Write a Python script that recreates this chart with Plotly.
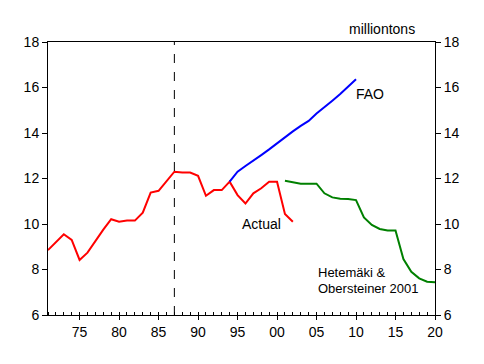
import plotly.graph_objects as go

# Data
actual_years = list(range(1971, 2003))
actual_vals = [8.85, 9.2, 9.55, 9.3, 8.42, 8.74, 9.25, 9.75, 10.21, 10.1,
               10.15, 10.15, 10.5, 11.38, 11.46, 11.86, 12.3, 12.26, 12.26, 12.12,
               11.24, 11.49, 11.49, 11.86, 11.27, 10.9, 11.35, 11.57, 11.86, 11.86,
               10.44, 10.1]

fao_years = list(range(1994, 2011))
fao_vals = [11.86, 12.3, 12.55, 12.81, 13.03, 13.28, 13.55, 13.81, 14.07, 14.31,
            14.53, 14.86, 15.16, 15.42, 15.71, 16.04, 16.36]

het_years = list(range(2001, 2021))
het_vals = [11.9, 11.83, 11.77, 11.77, 11.77, 11.35, 11.17, 11.11, 11.1, 11.05,
            10.29, 9.96, 9.78, 9.71, 9.71, 8.46, 7.9, 7.61, 7.46, 7.44]

divider_year = 1987
tick_years = list(range(1975, 2021, 5))
tick_labels = ["75", "80", "85", "90", "95", "00", "05", "10", "15", "20"]
y_ticks = [6, 8, 10, 12, 14, 16, 18]

FONT = dict(family="Arial, Liberation Sans, sans-serif", size=14, color="black")
FONT_SMALL = dict(family="Arial, Liberation Sans, sans-serif", size=13, color="black")

fig = go.Figure()
fig.add_trace(go.Scatter(x=actual_years, y=actual_vals, mode="lines",
                         line=dict(color="#FF0000", width=2), name="Actual"))
fig.add_trace(go.Scatter(x=fao_years, y=fao_vals, mode="lines",
                         line=dict(color="#0000FF", width=2), name="FAO"))
fig.add_trace(go.Scatter(x=het_years, y=het_vals, mode="lines",
                         line=dict(color="#008000", width=2), name="Hetemäki & Obersteiner 2001"))
# invisible trace for right axis
fig.add_trace(go.Scatter(x=[actual_years[0]], y=[actual_vals[0]], yaxis="y2",
                         mode="lines", line=dict(width=0), showlegend=False, hoverinfo="skip"))

fig.add_shape(type="line", x0=divider_year, x1=divider_year, y0=0, y1=1,
              xref="x", yref="paper", line=dict(color="black", width=1, dash="dash"))

fig.add_annotation(x=2009.8, y=15.71, text="FAO", showarrow=False,
                   xanchor="left", yanchor="middle", font=FONT)
fig.add_annotation(x=1995.3, y=10.0, text="Actual", showarrow=False,
                   xanchor="left", yanchor="middle", font=FONT)
fig.add_annotation(x=2004.9, y=7.86, text="Hetemäki &", showarrow=False,
                   xanchor="left", yanchor="middle", font=FONT_SMALL)
fig.add_annotation(x=2004.9, y=7.17, text="Obersteiner 2001", showarrow=False,
                   xanchor="left", yanchor="middle", font=FONT_SMALL)
fig.add_annotation(x=0.953, y=1.0465, xref="paper", yref="paper", text="milliontons",
                   showarrow=False, xanchor="right", yanchor="middle", font=FONT)

fig.update_layout(
    width=484, height=364,
    margin=dict(l=40, r=57, t=34, b=57),
    paper_bgcolor="white", plot_bgcolor="white",
    showlegend=False,
    font=FONT,
    xaxis=dict(range=[1971, 2020], tickvals=tick_years, ticktext=tick_labels,
               ticks="outside", ticklen=4, tickcolor="black", tickwidth=1,
               showline=True, linecolor="black", linewidth=1, mirror=True,
               showgrid=False, zeroline=False,
               minor=dict(ticks="inside", dtick=1, ticklen=3, tickcolor="black", showgrid=False),
               tickfont=FONT),
    yaxis=dict(range=[6, 18], tickvals=y_ticks, ticks="outside", ticklen=5,
               tickcolor="black", showline=True, linecolor="black", linewidth=1,
               showgrid=False, zeroline=False, tickfont=FONT),
    yaxis2=dict(range=[6, 18], tickvals=y_ticks, ticks="outside", ticklen=5,
                tickcolor="black", showline=True, linecolor="black", linewidth=1,
                overlaying="y", side="right", showgrid=False, zeroline=False,
                tickfont=FONT),
)

fig.write_html("out.html")
